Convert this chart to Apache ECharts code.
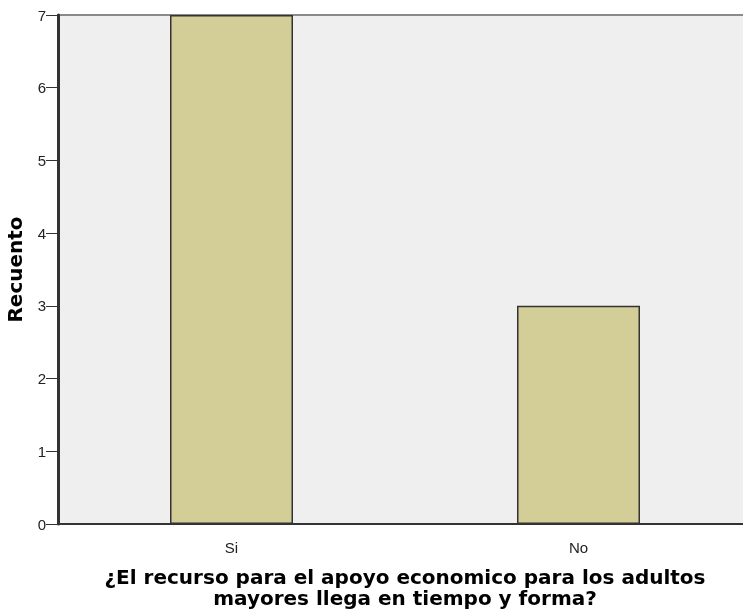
<!DOCTYPE html>
<html><head><meta charset="utf-8">
<script src="https://cdn.jsdelivr.net/npm/echarts@6/dist/echarts.min.js"></script>
<style>html,body{margin:0;padding:0;background:#fff;overflow:hidden}#c{width:752px;height:613px}</style>
</head><body><div id="c"></div>
<script>
const categories = ["Si", "No"];
const counts = [7, 3];
const yTicks = [0, 1, 2, 3, 4, 5, 6, 7];
const xTitle = "¿El recurso para el apoyo economico para los adultos\nmayores llega en tiempo y forma?";
const yTitle = "Recuento";

const chart = echarts.init(document.getElementById('c'));
chart.setOption({
  animation: false,
  grid: { left: 58, top: 15, right: 0, bottom: 89, containLabel: false, outerBoundsMode: 'none', show: true, backgroundColor: '#efefef', borderColor: '#8a8a8a', borderWidth: 2 },
  xAxis: {
    type: 'category', data: categories,
    name: xTitle, nameLocation: 'middle', nameGap: 44,
    nameTextStyle: { fontFamily: 'DejaVu Sans', fontWeight: 'bold', fontSize: 20, color: '#000', lineHeight: 21 },
    axisLine: { lineStyle: { color: '#333', width: 2 } },
    axisTick: { alignWithLabel: true, length: 12, lineStyle: { color: '#333', width: 1 } },
    axisLabel: { fontFamily: 'Liberation Sans, Arial', fontSize: 15, color: '#222', margin: 17 },
    splitLine: { show: false }
  },
  yAxis: {
    type: 'value', min: yTicks[0], max: yTicks[yTicks.length - 1], interval: 1,
    name: yTitle, nameLocation: 'middle', nameGap: 23, nameRotate: 90,
    nameTextStyle: { fontFamily: 'DejaVu Sans', fontWeight: 'bold', fontSize: 20, color: '#000' },
    axisLine: { show: true, lineStyle: { color: '#333', width: 3 } },
    axisTick: { show: true, length: 12, lineStyle: { color: '#333', width: 1 } },
    axisLabel: { fontFamily: 'Liberation Sans, Arial', fontSize: 15, color: '#222', margin: 12, verticalAlign: 'top', padding: [-6, 0, 0, 0] },
    splitLine: { show: false }
  },
  series: [{
    type: 'bar', data: counts, barWidth: 123,
    itemStyle: { color: '#d3ce97', borderColor: '#333', borderWidth: 1.5 }
  }]
});
</script></body></html>
